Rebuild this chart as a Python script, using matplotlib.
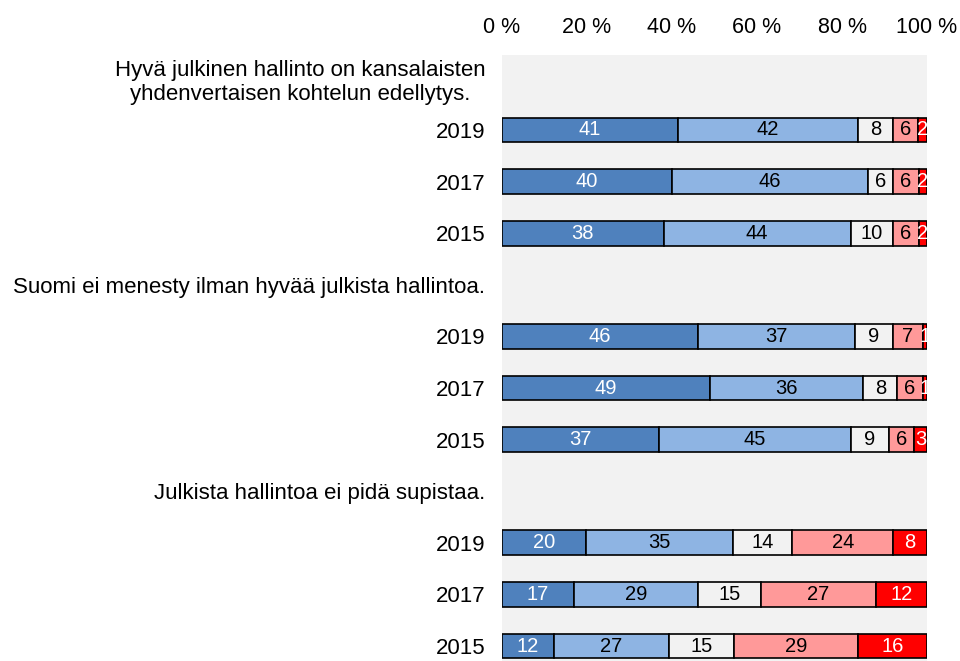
import matplotlib
matplotlib.use("Agg")
import matplotlib.pyplot as plt
import numpy as np

plt.rcParams['font.family'] = ['Liberation Sans', 'DejaVu Sans']

titles = ["Hyvä julkinen hallinto on kansalaisten\nyhdenvertaisen kohtelun edellytys.",
          "Suomi ei menesty ilman hyvää julkista hallintoa.",
          "Julkista hallintoa ei pidä supistaa."]
years = ["2019", "2017", "2015"]

# values per group, per year: 5 response categories
g1 = [[41, 42, 8, 6, 2], [40, 46, 6, 6, 2], [38, 44, 10, 6, 2]]
g2 = [[46, 37, 9, 7, 1], [49, 36, 8, 6, 1], [37, 45, 9, 6, 3]]
g3 = [[20, 35, 14, 24, 8], [17, 29, 15, 27, 12], [12, 27, 15, 29, 16]]
groups = [g1, g2, g3]

colors = ["#4F81BD", "#8EB4E3", "#F2F2F2", "#FF9999", "#FF0000"]
text_colors = ["white", "black", "black", "black", "white"]
tick_vals = [0, 20, 40, 60, 80, 100]
tick_labels = ["0 %", "20 %", "40 %", "60 %", "80 %", "100 %"]

fig = plt.figure(figsize=(9.6, 6.61), dpi=100)
ax = fig.add_axes([502/960, 0, 425/960, 1 - 55/661])
ax.set_facecolor("#F2F2F2")

ylabels = []
ypos = []
row = 0
for gi, g in enumerate(groups):
    ylabels.append(titles[gi]); ypos.append(row); row += 1
    for yi, vals in enumerate(g):
        vals = np.array(vals, dtype=float)
        pct = vals / vals.sum() * 100
        left = 0
        for k in range(5):
            ax.barh(row, pct[k], left=left, height=0.48, color=colors[k],
                    edgecolor="black", linewidth=1.2)
            ax.text(left + pct[k] / 2, row, f"{int(vals[k])}", ha="center", va="center",
                    color=text_colors[k], fontsize=14.5)
            left += pct[k]
        ylabels.append(years[yi]); ypos.append(row); row += 1

ax.set_xlim(0, 100)
ax.set_ylim(11.29, -0.453)
ax.xaxis.tick_top()
ax.set_xticks(tick_vals)
ax.set_xticklabels(tick_labels, fontsize=15.5)
ax.set_yticks(ypos)
ax.set_yticklabels(ylabels, fontsize=16)
for lbl in ax.get_yticklabels():
    lbl.set_multialignment("center")
ax.tick_params(axis='y', length=0, pad=12)
ax.tick_params(axis='x', length=0, pad=12)
for s in ax.spines.values():
    s.set_visible(False)

fig.savefig("out.png", dpi=100)
